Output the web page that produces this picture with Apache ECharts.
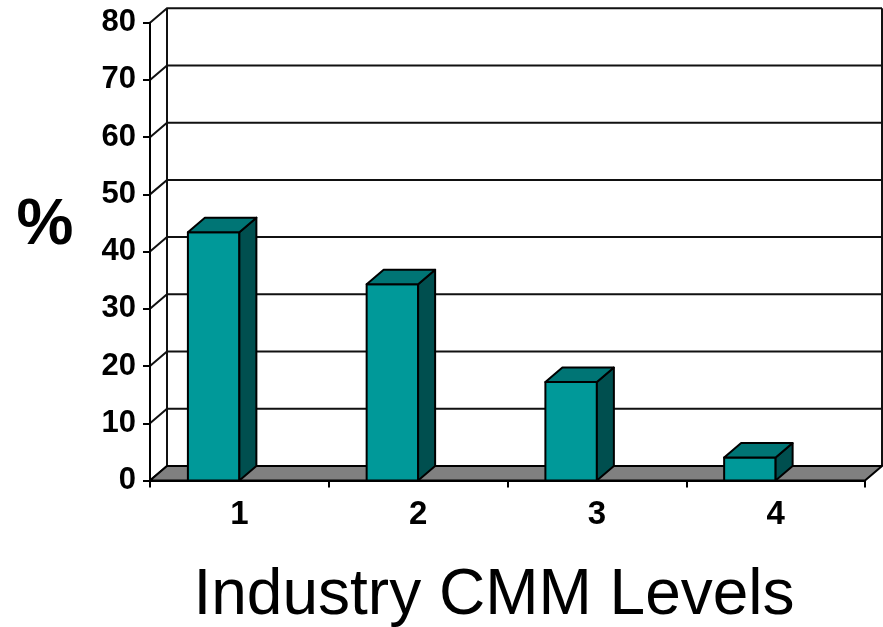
<!DOCTYPE html>
<html>
<head>
<meta charset="utf-8">
<script src="https://cdn.jsdelivr.net/npm/echarts@6/dist/echarts.min.js"></script>
<style>
html,body{margin:0;padding:0;background:#fff;}
#chart{width:883px;height:627px;}
</style>
</head>
<body>
<div id="chart"></div>
<script>
var categories = ['1', '2', '3', '4'];
var values = [43.4, 34.3, 17.2, 4.0];
var yTicks = [0, 10, 20, 30, 40, 50, 60, 70, 80];
var yName = '%';
var xName = 'Industry CMM Levels';

var DX = 17, DY = 14.5;
var FONT = '"Liberation Sans", Arial, sans-serif';

var chart = echarts.init(document.getElementById('chart'), null, {renderer: 'canvas'});

function frameItem(params, api) {
  var cs = params.coordSys;
  var x0 = cs.x, x1 = cs.x + cs.width;
  var y0 = api.coord([0, yTicks[0]])[1];
  var yT = api.coord([0, yTicks[yTicks.length - 1]])[1];
  var lineStyle = {stroke: '#111', lineWidth: 2, fill: null};
  var children = [];
  children.push({type: 'polygon', shape: {points: [[x0 + DX, yT - DY], [x1 + DX, yT - DY], [x1 + DX, y0 - DY], [x0 + DX, y0 - DY]]}, style: {fill: '#fff'}});
  yTicks.forEach(function (v) {
    var y = api.coord([0, v])[1];
    children.push({type: 'polyline', shape: {points: [[x0, y], [x0 + DX, y - DY], [x1 + DX, y - DY]]}, style: lineStyle});
  });
  children.push({type: 'line', shape: {x1: x0 + DX, y1: yT - DY, x2: x0 + DX, y2: y0 - DY}, style: lineStyle});
  children.push({type: 'line', shape: {x1: x1 + DX, y1: yT - DY, x2: x1 + DX, y2: y0 - DY}, style: lineStyle});
  children.push({type: 'polygon', shape: {points: [[x0, y0], [x1, y0], [x1 + DX, y0 - DY], [x0 + DX, y0 - DY]]}, style: {fill: '#808080', stroke: '#000', lineWidth: 2}});
  return {type: 'group', children: children};
}

function barItem(params, api) {
  var idx = api.value(0);
  var top = api.coord([idx, api.value(1)]);
  var bot = api.coord([idx, 0]);
  var band = api.size([1, 0])[0];
  var r = top[0];
  var l = r - band * 0.288;
  var t = top[1], b = bot[1];
  var st = {stroke: '#000', lineWidth: 2, lineJoin: 'round'};
  return {type: 'group', children: [
    {type: 'polygon', shape: {points: [[l, t], [r, t], [r, b], [l, b]]}, style: Object.assign({fill: '#009999'}, st)},
    {type: 'polygon', shape: {points: [[r, t], [r + DX, t - DY], [r + DX, b - DY], [r, b]]}, style: Object.assign({fill: '#004f4f'}, st)},
    {type: 'polygon', shape: {points: [[l, t], [r, t], [r + DX, t - DY], [l + DX, t - DY]]}, style: Object.assign({fill: '#007575'}, st)}
  ]};
}

var option = {
  backgroundColor: '#fff',
  animation: false,
  grid: {left: 150, right: 18, top: 22.7, bottom: 146.5, containLabel: false},
  xAxis: {
    type: 'category',
    data: categories,
    axisLine: {show: true, lineStyle: {color: '#000', width: 2}},
    axisTick: {show: true, length: 7, lineStyle: {color: '#000', width: 2}},
    axisLabel: {color: '#000', fontFamily: FONT, fontWeight: 'bold', fontSize: 33, margin: 18},
    splitLine: {show: false},
    z: 10
  },
  yAxis: {
    type: 'value',
    min: 0, max: 80, interval: 10,
    axisLine: {show: true, lineStyle: {color: '#000', width: 2}},
    axisTick: {show: true, length: 7, lineStyle: {color: '#000', width: 2}},
    axisLabel: {color: '#000', fontFamily: FONT, fontWeight: 'bold', fontSize: 31, margin: 14},
    splitLine: {show: false},
    z: 10
  },
  graphic: [
    {type: 'text', x: 45, y: 226, z: 100, style: {text: yName, fill: '#000', font: 'bold 64px ' + FONT, textAlign: 'center', textVerticalAlign: 'middle'}},
    {type: 'text', x: 494, y: 596, z: 100, style: {text: xName, fill: '#000', font: '64px ' + FONT, textAlign: 'center', textVerticalAlign: 'middle'}}
  ],
  series: [
    {type: 'custom', renderItem: frameItem, data: [[0, 0]], z: 1, silent: true, clip: false},
    {type: 'custom', renderItem: barItem, data: values.map(function (v, i) { return [i, v]; }), z: 5, clip: false}
  ]
};
chart.setOption(option);
</script>
</body>
</html>
